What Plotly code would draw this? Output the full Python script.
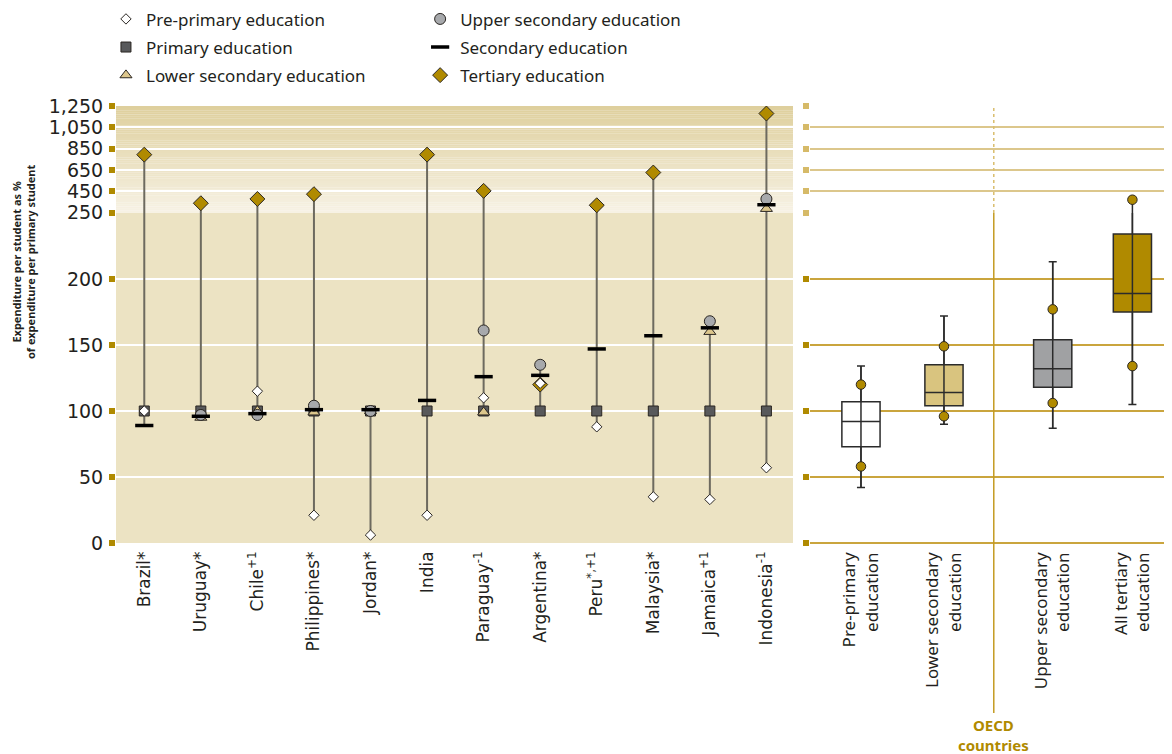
import plotly.graph_objects as go

# ---------------- data ----------------
countries = ["Brazil*", "Uruguay*", "Chile<sup>+1</sup>", "Philippines*", "Jordan*", "India",
             "Paraguay<sup>-1</sup>", "Argentina*", "Peru<sup>*,+1</sup>", "Malaysia*",
             "Jamaica<sup>+1</sup>", "Indonesia<sup>-1</sup>"]
pre_primary     = [100, None, 115, 21, 6, 21, 110, 121, 88, 35, 33, 57]
primary         = [100, 100, 100, 100, 100, 100, 100, 100, 100, 100, 100, 100]
lower_secondary = [None, 95, 100, 99, 100, None, 99, None, None, None, 160, 287]
upper_secondary = [None, 97, 97, 104, 100, None, 161, 135, None, None, 168, 379]
secondary       = [89, 96, 98, 101, 101, 108, 126, 127, 147, 157, 163, 325]
tertiary        = [795, 339, 379, 424, None, 795, 455, 120, 320, 627, None, 1181]

oecd_levels = ["Pre-primary<br>education", "Lower secondary<br>education",
               "Upper secondary<br>education", "All tertiary<br>education"]
oecd_q1     = [73, 104, 118, 175]
oecd_median = [92, 114, 132, 189]
oecd_q3     = [107, 135, 154, 234]
oecd_min    = [42, 90, 87, 105]
oecd_max    = [134, 172, 213, 372]
oecd_p_low  = [58, 96, 106, 134]
oecd_p_high = [120, 149, 177, 372]

lower_ticks = [0, 50, 100, 150, 200]
upper_ticks = [250, 450, 650, 850, 1050, 1250]
BREAK = 250

# ---------------- layout constants ----------------
x_idx = list(range(len(countries)))
oecd_pos = [0, 1, 2.31, 3.27]
oecd_divider = 1.6
L_DOM = [0, 0.6411]
R_DOM = [0.6572, 1]
SPLIT = 0.7552
UPPER_RANGE = [247.5, 1251.5]
TXT = "#231f20"
GOLD = "#b08a00"
STEM = "#6d6a5f"

fig = go.Figure()


def split(vals):
    lo = [v if (v is not None and v <= BREAK) else None for v in vals]
    hi = [v if (v is not None and v > BREAK) else None for v in vals]
    return lo, hi


# stems for countries
all_series = [pre_primary, primary, lower_secondary, upper_secondary, secondary, tertiary]
stem_x, stem_y = [], []
for i in x_idx:
    vals = [s[i] for s in all_series if s[i] is not None]
    stem_x += [i, i, None]
    stem_y += [min(vals), max(vals), None]
for ya in ["y", "y2"]:
    fig.add_trace(go.Scatter(x=stem_x, y=stem_y, mode="lines", line=dict(color=STEM, width=2),
                             xaxis="x", yaxis=ya, showlegend=False, hoverinfo="skip"))

series = [
    # name, values, symbol, size, fill, outline width, legend, rank
    ("Tertiary education", tertiary, "diamond", 11.5, GOLD, 1, "legend2", 3),
    ("Primary education", primary, "square", 10, "#58595b", 1, "legend", 2),
    ("Lower secondary education", lower_secondary, "triangle-up", 10.5, "#dcc68c", 1, "legend", 3),
    ("Upper secondary education", upper_secondary, "circle", 11, "#a7a9ac", 1, "legend2", 1),
    ("Secondary education", secondary, "line-ew", 13, "black", 3.5, "legend2", 2),
    ("Pre-primary education", pre_primary, "diamond", 8, "white", 1, "legend", 1),
]
for name, vals, sym, size, fill, lw, leg, rank in series:
    lo, hi = split(vals)
    lcol = "black" if sym == "line-ew" else "#2a2622"
    mk = dict(symbol=sym, size=size, color=fill, line=dict(color=lcol, width=lw))
    fig.add_trace(go.Scatter(x=x_idx, y=lo, mode="markers", marker=mk, name=name, legend=leg,
                             legendrank=rank, legendgroup=name, xaxis="x", yaxis="y",
                             cliponaxis=False))
    fig.add_trace(go.Scatter(x=x_idx, y=hi, mode="markers", marker=mk, name=name,
                             legendgroup=name, showlegend=False, xaxis="x", yaxis="y2",
                             cliponaxis=False))

# OECD boxes
box_fills = ["white", "#d9c47f", "#a0a1a3", GOLD]
for k in range(len(oecd_levels)):
    fig.add_trace(go.Box(x=[oecd_pos[k]], q1=[oecd_q1[k]], median=[oecd_median[k]], q3=[oecd_q3[k]],
                         lowerfence=[oecd_min[k]], upperfence=[oecd_max[k]],
                         fillcolor=box_fills[k], line=dict(color="#2b2b2b", width=1.5),
                         width=0.46, whiskerwidth=0.21, xaxis="x2", yaxis="y3",
                         showlegend=False, hoverinfo="skip"))
ox, oy = [], []
for k in range(len(oecd_levels)):
    ox += [oecd_pos[k], oecd_pos[k], None]
    oy += [oecd_min[k], oecd_max[k], None]
for ya in ["y3", "y4"]:
    fig.add_trace(go.Scatter(x=ox, y=oy, mode="lines", line=dict(color="#2b2b2b", width=1.5),
                             xaxis="x2", yaxis=ya, showlegend=False, hoverinfo="skip"))
dots = oecd_p_low + oecd_p_high
dots_x = oecd_pos + oecd_pos
lo, hi = split(dots)
dmk = dict(symbol="circle", size=9.5, color=GOLD, line=dict(color="#2a2622", width=1))
fig.add_trace(go.Scatter(x=dots_x, y=lo, mode="markers", marker=dmk, xaxis="x2", yaxis="y3",
                         showlegend=False, cliponaxis=False))
fig.add_trace(go.Scatter(x=dots_x, y=hi, mode="markers", marker=dmk, xaxis="x2", yaxis="y4",
                         showlegend=False, cliponaxis=False))

# ---------------- backgrounds ----------------
shapes = [dict(type="rect", xref="x domain", yref="y domain", x0=0, x1=1, y0=0, y1=1,
               fillcolor="#ece3c3", line_width=0, layer="below")]
N = 50
c0 = (247, 242, 229)
c1 = (222, 207, 156)
for j in range(N):
    t = (j + 0.5) / N
    col = "rgb(%d,%d,%d)" % tuple(round(a + (b - a) * t) for a, b in zip(c0, c1))
    shapes.append(dict(type="rect", xref="x domain", yref="y2 domain", x0=0, x1=1,
                       y0=j / N, y1=(j + 1) / N + 0.001, fillcolor=col, line_width=0, layer="below"))
# divider for OECD panel
shapes.append(dict(type="line", xref="x2", yref="paper", x0=oecd_divider, x1=oecd_divider,
                   y0=SPLIT, y1=1, line=dict(color="#d9be6e", width=1.5, dash="dot")))
shapes.append(dict(type="line", xref="x2", yref="paper", x0=oecd_divider, x1=oecd_divider,
                   y0=-0.389, y1=SPLIT, line=dict(color="#c49b22", width=1.5)))

annotations = [
    dict(text="<b>Expenditure per student as %<br>of expenditure per primary student</b>",
         xref="paper", yref="paper", x=-0.088, y=0.643, textangle=-90, showarrow=False,
         font=dict(family="Noto Sans", size=11, color=TXT), xanchor="center", yanchor="middle"),
    dict(text="<b>OECD<br>countries</b>", xref="x2", yref="paper", x=oecd_divider, y=-0.44,
         showarrow=False, font=dict(family="Noto Sans", size=15, color=GOLD),
         xanchor="center", yanchor="middle"),
]

ytick_font = dict(family="DejaVu Sans", size=19, color=TXT)
common_y = dict(ticks="outside", ticklen=6, tickwidth=6, tickcolor=GOLD, tickformat=",d",
                showline=False, zeroline=False, ticklabelstandoff=2, automargin=False)

fig.update_layout(
    width=1164, height=746, margin=dict(l=108, r=0, t=98, b=211, autoexpand=False),
    plot_bgcolor="white", paper_bgcolor="white",
    shapes=shapes, annotations=annotations,
    xaxis=dict(domain=L_DOM, range=[-0.5, 11.47], tickvals=x_idx, ticktext=countries,
               tickangle=-90, showgrid=False, zeroline=False, ticks="", anchor="y",
               automargin=False, ticklabelstandoff=4,
               tickfont=dict(family="DejaVu Sans", size=17, color=TXT)),
    yaxis=dict(domain=[0, SPLIT], range=[0, BREAK], tickvals=lower_ticks, anchor="x",
               gridcolor="white", gridwidth=2, tickfont=ytick_font, **common_y),
    yaxis2=dict(domain=[SPLIT, 1], range=UPPER_RANGE, tickvals=upper_ticks, anchor="x",
                gridcolor="white", gridwidth=2, tickfont=ytick_font, **common_y),
    xaxis2=dict(domain=R_DOM, range=[-0.614, 3.747], tickvals=oecd_pos, ticktext=oecd_levels,
                tickangle=-90, showgrid=False, zeroline=False, ticks="", anchor="y3",
                automargin=False, ticklabelstandoff=5,
                tickfont=dict(family="Noto Sans", size=17, color=TXT)),
    yaxis3=dict(domain=[0, SPLIT], range=[0, BREAK], tickvals=lower_ticks, anchor="x2",
                gridcolor="#caa53e", gridwidth=1.5, showticklabels=False, automargin=False,
                ticks="outside", ticklen=6, tickwidth=6, tickcolor=GOLD,
                zeroline=True, zerolinecolor="#caa53e", zerolinewidth=1.5),
    yaxis4=dict(domain=[SPLIT, 1], range=UPPER_RANGE, tickvals=upper_ticks, anchor="x2",
                gridcolor="#dcc78c", gridwidth=1.5, showticklabels=False, automargin=False,
                ticks="outside", ticklen=6, tickwidth=6, tickcolor="#d6ba68", zeroline=False),
    legend=dict(x=-0.0095, y=1.2394, xanchor="left", yanchor="top", tracegroupgap=3,
                font=dict(family="Noto Sans", size=17, color=TXT), bgcolor="rgba(0,0,0,0)",
                itemsizing="trace"),
    legend2=dict(x=0.288, y=1.2394, xanchor="left", yanchor="top", tracegroupgap=3,
                 font=dict(family="Noto Sans", size=17, color=TXT), bgcolor="rgba(0,0,0,0)",
                 itemsizing="trace"),
)

fig.write_html("out.html")
